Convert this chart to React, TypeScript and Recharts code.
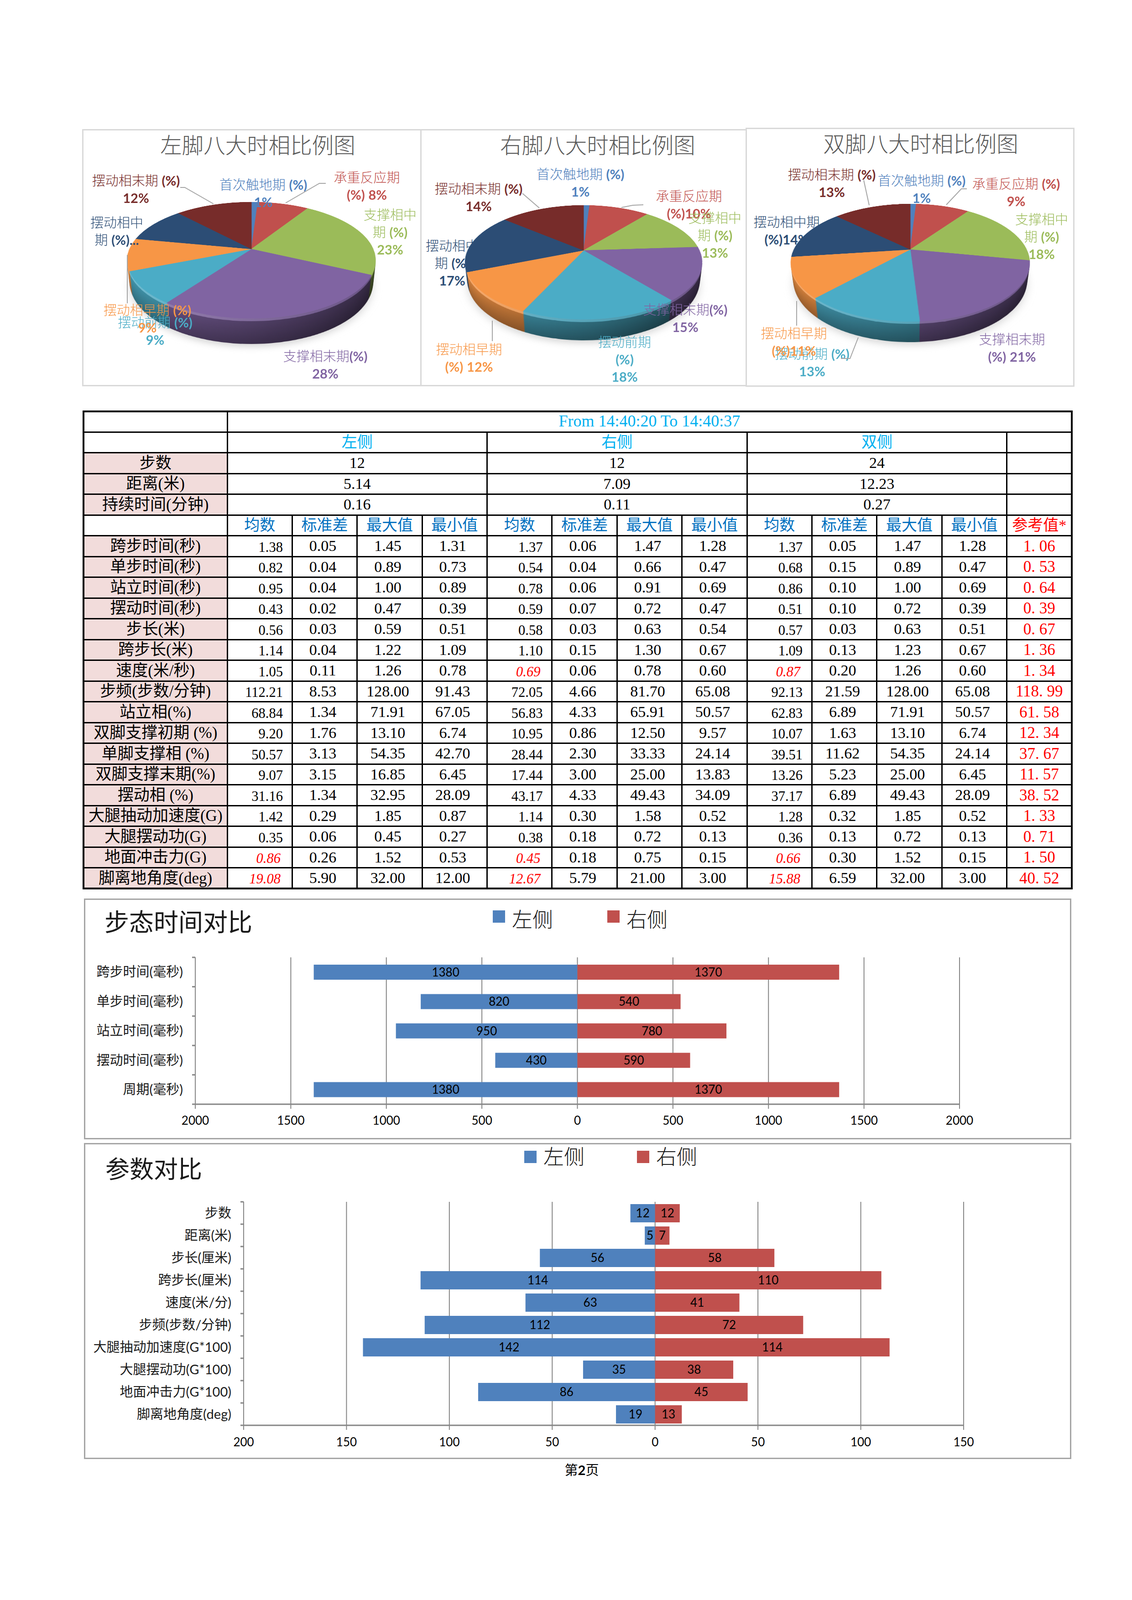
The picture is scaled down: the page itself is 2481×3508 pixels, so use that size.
import {
  BarChart, Bar, XAxis, YAxis, CartesianGrid, Legend, LabelList,
  PieChart, Pie, Cell,
} from 'recharts';

const SANS = '"Noto Sans CJK SC", sans-serif';
const LATIN = 'Lato, "Noto Sans CJK SC", sans-serif';
const SERIF = '"Liberation Serif", "Noto Sans CJK SC", serif';

// pie data
const PHASES = ['首次触地期', '承重反应期', '支撑相中期', '支撑相末期', '摆动前期', '摆动相早期', '摆动相中期', '摆动相末期'];
const PIE_COLORS = ['#4f81bd', '#c0504d', '#9bbb59', '#8064a2', '#4bacc6', '#f79646', '#2c4d75', '#772c2a'];
const LEFT_PIE = [1, 8, 23, 28, 9, 9, 10, 12];
const RIGHT_PIE = [1, 10, 13, 15, 18, 12, 17, 14];
const BOTH_PIE = [1, 9, 18, 21, 13, 11, 14, 13];

const LEFT_PIE_TEXT = ['首次触地期 (%)\n1%', '承重反应期\n(%) 8%', '支撑相中\n期 (%)\n23%', '支撑相末期(%)\n28%', '摆动前期 (%)\n9%', '摆动相早期 (%)\n9%', '摆动相中\n期 (%)...', '摆动相末期 (%)\n12%'];
const RIGHT_PIE_TEXT = ['首次触地期 (%)\n1%', '承重反应期\n(%)10%', '支撑相中\n期 (%)\n13%', '支撑相末期(%)\n15%', '摆动前期\n(%)\n18%', '摆动相早期\n(%) 12%', '摆动相中\n期 (%)\n17%', '摆动相末期 (%)\n14%'];
const BOTH_PIE_TEXT = ['首次触地期 (%)\n1%', '承重反应期 (%)\n9%', '支撑相中\n期 (%)\n18%', '支撑相末期\n(%) 21%', '摆动前期 (%)\n13%', '摆动相早期\n(%)11%', '摆动相中期\n(%)14%', '摆动相末期 (%)\n13%'];

// label anchors, same order as PHASES: [x, y of first line, drawn behind pie]
const LEFT_PIE_POS: [number, number, boolean][] = [[577, 404, false], [804, 388, false], [855, 470, false], [713, 780, false], [340, 706, false], [323, 679, false], [256, 487, false], [298, 395, false]];
const RIGHT_PIE_POS: [number, number, boolean][] = [[1272, 381, false], [1510, 429, false], [1567, 477, false], [1502, 678, false], [1369, 749, false], [1028, 765, false], [991, 538, true], [1049, 413, false]];
const BOTH_PIE_POS: [number, number, boolean][] = [[2020, 395, false], [2227, 402, false], [2283, 480, false], [2218, 743, false], [1780, 775, false], [1740, 730, false], [1724, 486, true], [1823, 382, false]];

const LEADERS = [
  '395,411 405,411 468,447', '714,402 700,402 626,445', '279,559 279,665',
  '1145,424 1182,456', '1410,449 1387,450 1362,455', '1079,703 1079,748',
  '1893,395 1905,450', '2119,414 2107,414 2074,449', '1746,660 1746,714', '1881,740 1863,786 1843,786',
];

// table data
const SUMMARY_LABELS = ['步数', '距离(米)', '持续时间(分钟)'];
const SUMMARY_LEFT = ['12', '5.14', '0.16'];
const SUMMARY_RIGHT = ['12', '7.09', '0.11'];
const SUMMARY_BOTH = ['24', '12.23', '0.27'];
const STAT_HEADERS = ['均数', '标准差', '最大值', '最小值'];
const METRICS = ['跨步时间(秒)', '单步时间(秒)', '站立时间(秒)', '摆动时间(秒)', '步长(米)', '跨步长(米)', '速度(米/秒)', '步频(步数/分钟)', '站立相(%)', '双脚支撑初期 (%)', '单脚支撑相 (%)', '双脚支撑末期(%)', '摆动相 (%)', '大腿抽动加速度(G)', '大腿摆动功(G)', '地面冲击力(G)', '脚离地角度(deg)'];

const LEFT_MEAN = [1.38, 0.82, 0.95, 0.43, 0.56, 1.14, 1.05, 112.21, 68.84, 9.20, 50.57, 9.07, 31.16, 1.42, 0.35, 0.86, 19.08];
const LEFT_SD = [0.05, 0.04, 0.04, 0.02, 0.03, 0.04, 0.11, 8.53, 1.34, 1.76, 3.13, 3.15, 1.34, 0.29, 0.06, 0.26, 5.90];
const LEFT_MAX = [1.45, 0.89, 1.00, 0.47, 0.59, 1.22, 1.26, 128.00, 71.91, 13.10, 54.35, 16.85, 32.95, 1.85, 0.45, 1.52, 32.00];
const LEFT_MIN = [1.31, 0.73, 0.89, 0.39, 0.51, 1.09, 0.78, 91.43, 67.05, 6.74, 42.70, 6.45, 28.09, 0.87, 0.27, 0.53, 12.00];
const RIGHT_MEAN = [1.37, 0.54, 0.78, 0.59, 0.58, 1.10, 0.69, 72.05, 56.83, 10.95, 28.44, 17.44, 43.17, 1.14, 0.38, 0.45, 12.67];
const RIGHT_SD = [0.06, 0.04, 0.06, 0.07, 0.03, 0.15, 0.06, 4.66, 4.33, 0.86, 2.30, 3.00, 4.33, 0.30, 0.18, 0.18, 5.79];
const RIGHT_MAX = [1.47, 0.66, 0.91, 0.72, 0.63, 1.30, 0.78, 81.70, 65.91, 12.50, 33.33, 25.00, 49.43, 1.58, 0.72, 0.75, 21.00];
const RIGHT_MIN = [1.28, 0.47, 0.69, 0.47, 0.54, 0.67, 0.60, 65.08, 50.57, 9.57, 24.14, 13.83, 34.09, 0.52, 0.13, 0.15, 3.00];
const BOTH_MEAN = [1.37, 0.68, 0.86, 0.51, 0.57, 1.09, 0.87, 92.13, 62.83, 10.07, 39.51, 13.26, 37.17, 1.28, 0.36, 0.66, 15.88];
const BOTH_SD = [0.05, 0.15, 0.10, 0.10, 0.03, 0.13, 0.20, 21.59, 6.89, 1.63, 11.62, 5.23, 6.89, 0.32, 0.13, 0.30, 6.59];
const BOTH_MAX = [1.47, 0.89, 1.00, 0.72, 0.63, 1.23, 1.26, 128.00, 71.91, 13.10, 54.35, 25.00, 49.43, 1.85, 0.72, 1.52, 32.00];
const BOTH_MIN = [1.28, 0.47, 0.69, 0.39, 0.51, 0.67, 0.60, 65.08, 50.57, 6.74, 24.14, 6.45, 28.09, 0.52, 0.13, 0.15, 3.00];
const REFERENCE = ['1. 06', '0. 53', '0. 64', '0. 39', '0. 67', '1. 36', '1. 34', '118. 99', '61. 58', '12. 34', '37. 67', '11. 57', '38. 52', '1. 33', '0. 71', '1. 50', '40. 52'];
const LEFT_LOW = [15, 16];
const RIGHT_LOW = [6, 15, 16];
const BOTH_LOW = [6, 15, 16];

// bar data
const TIME_NAMES = ['跨步时间(毫秒)', '单步时间(毫秒)', '站立时间(毫秒)', '摆动时间(毫秒)', '周期(毫秒)'];
const TIME_LEFT = [1380, 820, 950, 430, 1380];
const TIME_RIGHT = [1370, 540, 780, 590, 1370];
const TIME_TICKS = [-2000, -1500, -1000, -500, 0, 500, 1000, 1500, 2000];
const PARAM_NAMES = ['步数', '距离(米)', '步长(厘米)', '跨步长(厘米)', '速度(米/分)', '步频(步数/分钟)', '大腿抽动加速度(G*100)', '大腿摆动功(G*100)', '地面冲击力(G*100)', '脚离地角度(deg)'];
const PARAM_LEFT = [12, 5, 56, 114, 63, 112, 142, 35, 86, 19];
const PARAM_RIGHT = [12, 7, 58, 110, 41, 72, 114, 38, 45, 13];
const PARAM_TICKS = [-200, -150, -100, -50, 0, 50, 100, 150];

function mix(hex: string, target: number, amt: number) {
  const n = parseInt(hex.slice(1), 16);
  const ch = [(n >> 16) & 255, (n >> 8) & 255, n & 255].map((c) => Math.round(c + (target - c) * amt));
  return `rgb(${ch.join(',')})`;
}

interface PieProps {
  id: string;
  values: number[];
  cx: number;
  cy: number;
  radius: number;
  persp: number;
  tilt: number;
  depth: number;
}

function PieLayer({ id, values, cx, cy, radius, persp, tilt, h, fills, stops, blur }: PieProps & {
  h: number; fills?: string[]; stops?: [string, string][]; blur?: boolean;
}) {
  const size = radius * 2 + 12;
  const data = PHASES.map((name, i) => ({ name, value: values[i] }));
  return (
    <div style={{
      position: 'absolute', left: cx - size / 2, top: cy - size / 2, width: size, height: size,
      transform: `perspective(${persp}px) rotateX(${tilt}deg) translateZ(${-h}px)`,
      transformOrigin: '50% 50%',
      filter: blur ? 'blur(9px)' : undefined,
      opacity: blur ? 0.3 : 1,
    }}>
      <PieChart width={size} height={size} margin={{ top: 0, right: 0, bottom: 0, left: 0 }}>
        {stops && (
          <defs>
            {stops.map((s, i) => (
              <linearGradient key={i} id={`${id}-${h}-${i}`} gradientUnits="userSpaceOnUse" x1={6} x2={size - 6} y1={0} y2={0}>
                <stop offset="0" stopColor={s[0]} />
                <stop offset="1" stopColor={s[1]} />
              </linearGradient>
            ))}
          </defs>
        )}
        <Pie
          data={data}
          dataKey="value"
          cx={size / 2}
          cy={size / 2}
          innerRadius={0}
          outerRadius={radius}
          startAngle={90}
          endAngle={-270}
          stroke="none"
          isAnimationActive={false}
        >
          {data.map((d, i) => (
            <Cell
              key={d.name}
              fill={stops ? `url(#${id}-${h}-${i})` : fills![i]}
              stroke={stops ? 'none' : fills![i]}
              strokeWidth={stops ? 0 : 1}
            />
          ))}
        </Pie>
      </PieChart>
    </div>
  );
}

function Pie3D(props: PieProps) {
  const heights: number[] = [];
  for (let h = props.depth; h > 0; h -= 2) heights.push(h);
  return (
    <>
      <PieLayer {...props} h={props.depth + 7} fills={PIE_COLORS.map(() => '#7f7f7f')} blur />
      {heights.map((h) => {
        const t = h / props.depth;
        const stops: [string, string][] = PIE_COLORS.map((c) =>
          h <= 6
            ? [mix(c, 255, 0.22), mix(c, 0, 0.2)]
            : [mix(c, 0, 0.1 + 0.25 * t), mix(c, 0, 0.6 + 0.12 * t)]
        );
        return <PieLayer key={h} {...props} h={h} stops={stops} />;
      })}
      <PieLayer {...props} h={0} fills={PIE_COLORS} />
    </>
  );
}

function PieText({ texts, pos, behind }: { texts: string[]; pos: [number, number, boolean][]; behind: boolean }) {
  return (
    <>
      {texts.map((text, i) =>
        pos[i][2] !== behind ? null : text.split('\n').map((line, j) => (
          <div key={`${i}-${j}`} style={{
            position: 'absolute', left: pos[i][0], top: pos[i][1] + j * 38,
            transform: 'translate(-50%, -50%)', whiteSpace: 'nowrap',
            color: PIE_COLORS[i], fontFamily: LATIN, fontSize: 29, lineHeight: 1, fontWeight: 300,
          }}>
            {line.split(/(\(%\)\.*|\d+%)/).map((part, k) => (
              <span key={k} style={{ fontWeight: k % 2 ? 700 : 300 }}>{part}</span>
            ))}
          </div>
        ))
      )}
    </>
  );
}

function PiePanel({ left, top, width, height, title, titleX, titleY }: {
  left: number; top: number; width: number; height: number; title: string; titleX: number; titleY: number;
}) {
  return (
    <>
      <div style={{ position: 'absolute', left, top, width, height, boxSizing: 'border-box', border: '3px solid #d9d9d9' }} />
      <div style={{
        position: 'absolute', left: titleX, top: titleY, transform: 'translate(-50%, -50%)', whiteSpace: 'nowrap',
        fontFamily: SANS, fontSize: 47.5, lineHeight: 1, fontWeight: 300, color: '#595959',
      }}>{title}</div>
    </>
  );
}

const BORDER = '3px solid #000';
const cellBase = {
  border: BORDER, padding: 0, textAlign: 'center' as const, fontFamily: SERIF, fontSize: 34,
  lineHeight: 1, overflow: 'hidden', whiteSpace: 'nowrap' as const,
};

function StatCells({ mean, sd, max, min, low, i }: {
  mean: number[]; sd: number[]; max: number[]; min: number[]; low: number[]; i: number;
}) {
  const isLow = low.includes(i);
  return (
    <>
      <td style={{
        ...cellBase, textAlign: 'right', fontSize: 30.5, paddingRight: isLow ? 24 : 19, paddingTop: 5,
        color: isLow ? '#ff0000' : '#000', fontStyle: isLow ? 'italic' : 'normal',
      }}>{mean[i].toFixed(2)}</td>
      {[sd, max, min].map((col, k) => (
        <td key={k} style={{ ...cellBase, paddingRight: 8 }}>{col[i].toFixed(2)}</td>
      ))}
    </>
  );
}

function GaitTable() {
  const cols = [315, ...Array(13).fill(142.4)];
  const labelCell = { ...cellBase, background: '#f2dcdb', fontSize: 35 };
  const cyan = { ...cellBase, color: '#00b0f0', fontSize: 34 };
  const blue = { ...cellBase, color: '#0070c0', fontSize: 34 };
  return (
    <table style={{
      position: 'absolute', left: 181, top: 900, width: 2167, height: 1047,
      borderCollapse: 'collapse', tableLayout: 'fixed', border: '4px solid #000',
    }}>
      <colgroup>{cols.map((w, i) => <col key={i} style={{ width: w }} />)}</colgroup>
      <tbody>
        <tr style={{ height: 45 }}>
          <td style={cellBase} />
          <td colSpan={13} style={{ ...cyan, fontSize: 36, paddingBottom: 3 }}>From 14:40:20 To 14:40:37</td>
        </tr>
        <tr style={{ height: 45.5 }}>
          <td style={cellBase} />
          {['左侧', '右侧', '双侧'].map((s) => <td key={s} colSpan={4} style={cyan}>{s}</td>)}
          <td style={cellBase} />
        </tr>
        {SUMMARY_LABELS.map((label, i) => (
          <tr key={label} style={{ height: 45.5 }}>
            <td style={labelCell}>{label}</td>
            {[SUMMARY_LEFT, SUMMARY_RIGHT, SUMMARY_BOTH].map((col, k) => (
              <td key={k} colSpan={4} style={cellBase}>{col[i]}</td>
            ))}
            <td style={cellBase} />
          </tr>
        ))}
        <tr style={{ height: 45.5 }}>
          <td style={cellBase} />
          {[0, 1, 2].map((k) => STAT_HEADERS.map((s) => <td key={`${k}${s}`} style={blue}>{s}</td>))}
          <td style={{ ...cellBase, color: '#ff0000', fontSize: 34 }}>参考值*</td>
        </tr>
        {METRICS.map((label, i) => (
          <tr key={label} style={{ height: 45.5 }}>
            <td style={labelCell}>{label}</td>
            <StatCells mean={LEFT_MEAN} sd={LEFT_SD} max={LEFT_MAX} min={LEFT_MIN} low={LEFT_LOW} i={i} />
            <StatCells mean={RIGHT_MEAN} sd={RIGHT_SD} max={RIGHT_MAX} min={RIGHT_MIN} low={RIGHT_LOW} i={i} />
            <StatCells mean={BOTH_MEAN} sd={BOTH_SD} max={BOTH_MAX} min={BOTH_MIN} low={BOTH_LOW} i={i} />
            <td style={{ ...cellBase, color: '#ff0000', fontSize: 35 }}>{REFERENCE[i]}</td>
          </tr>
        ))}
      </tbody>
    </table>
  );
}

function CategoryTick({ y, payload, axisX, band, last }: any) {
  return (
    <g>
      <line x1={axisX - 7} x2={axisX} y1={y - band / 2} y2={y - band / 2} stroke="#868686" strokeWidth={3} />
      {last === payload.value && (
        <line x1={axisX - 7} x2={axisX} y1={y + band / 2} y2={y + band / 2} stroke="#868686" strokeWidth={3} />
      )}
      <text x={axisX - 27} y={y} dy="0.35em" textAnchor="end" fontSize={29} fontFamily={LATIN} fill="#1a1a1a">
        {payload.value}
      </text>
    </g>
  );
}

// legend keeps the chart area untouched, so it is placed by hand inside the panel
function makeLegend(step: number, squareY: number, textY: number) {
  return function PairLegend({ payload }: any) {
    return (
      <div style={{ position: 'relative', height: 60 }}>
        {(payload || []).map((item: any, i: number) => (
          <div key={item.value} style={{ position: 'absolute', left: i * step, top: 0 }}>
            <span style={{ position: 'absolute', left: 0, top: squareY, width: 27, height: 27, background: item.color }} />
            <span style={{
              position: 'absolute', left: 42, top: textY, whiteSpace: 'nowrap',
              fontSize: 45, lineHeight: '54px', fontFamily: SANS, fontWeight: 300, color: '#1a1a1a',
            }}>{item.value}</span>
          </div>
        ))}
      </div>
    );
  };
}

function Pyramid({ top, height, marginBottom, tickMargin, plotLeft, plotRight, barSize, names, left, right, ticks, title, titleX, titleY, titleSize, legendX, legendStep, squareY, textY }: {
  top: number; height: number; marginBottom: number; tickMargin: number; plotLeft: number; plotRight: number; barSize: number;
  names: string[]; left: number[]; right: number[]; ticks: number[];
  title: string; titleX: number; titleY: number; titleSize: number;
  legendX: number; legendStep: number; squareY: number; textY: number;
}) {
  const width = 2164;
  const marginTop = 129;
  const axisH = 60;
  const band = (height - marginTop - marginBottom - axisH) / names.length;
  const data = names.map((name, i) => ({ name, left: -left[i], right: right[i] }));
  return (
    <div style={{ position: 'absolute', left: 184, top, width, height }}>
      <div style={{ position: 'absolute', inset: 0, boxSizing: 'border-box', border: '3px solid #a6a6a6' }} />
      <div style={{
        position: 'absolute', left: titleX, top: titleY, transform: 'translateY(-50%)', whiteSpace: 'nowrap',
        fontFamily: SANS, fontSize: titleSize, lineHeight: 1, color: '#1a1a1a',
      }}>{title}</div>
      <BarChart
        layout="vertical"
        width={width}
        height={height}
        data={data}
        stackOffset="sign"
        margin={{ top: marginTop, right: width - plotRight, bottom: marginBottom, left: 0 }}
      >
        <CartesianGrid horizontal={false} stroke="#868686" strokeWidth={2} />
        <XAxis
          type="number"
          domain={[ticks[0], ticks[ticks.length - 1]]}
          ticks={ticks}
          interval={0}
          height={axisH}
          tickFormatter={(v: number) => String(Math.abs(v))}
          tick={{ fill: '#000', fontSize: 26, fontFamily: LATIN }}
          tickSize={10}
          tickMargin={tickMargin}
          tickLine={{ stroke: '#868686', strokeWidth: 2 }}
          axisLine={{ stroke: '#868686', strokeWidth: 3 }}
        />
        <YAxis
          type="category"
          dataKey="name"
          width={plotLeft}
          interval={0}
          tickLine={false}
          axisLine={{ stroke: '#868686', strokeWidth: 2 }}
          tick={(p: any) => <CategoryTick {...p} axisX={plotLeft} band={band} last={names[names.length - 1]} />}
        />
        <Legend
          layout="horizontal"
          verticalAlign="middle"
          align="center"
          itemSorter="dataKey"
          wrapperStyle={{ position: 'absolute', left: legendX, top: 0, width: 600, height: 60 }}
          content={makeLegend(legendStep, squareY, textY)}
        />
        <Bar dataKey="left" name="左侧" stackId="a" fill="#4f81bd" barSize={barSize} isAnimationActive={false}>
          <LabelList dataKey="left" position="center" formatter={(v: number) => Math.abs(v)} fill="#000" fontSize={26} fontFamily={LATIN} />
        </Bar>
        <Bar dataKey="right" name="右侧" stackId="a" fill="#c0504d" barSize={barSize} isAnimationActive={false}>
          <LabelList dataKey="right" position="center" fill="#000" fontSize={26} fontFamily={LATIN} />
        </Bar>
      </BarChart>
    </div>
  );
}

export default function App() {
  return (
    <div style={{ position: 'absolute', left: 0, top: 0, width: 2481, height: 3508, background: '#fff', overflow: 'hidden' }}>
      <PiePanel left={180} top={283} width={744} height={564} title="左脚八大时相比例图" titleX={565} titleY={316} />
      <PiePanel left={921} top={283} width={716} height={564} title="右脚八大时相比例图" titleX={1310} titleY={316} />
      <PiePanel left={1634} top={280} width={721} height={568} title="双脚八大时相比例图" titleX={2018} titleY={313} />

      <PieText texts={RIGHT_PIE_TEXT} pos={RIGHT_PIE_POS} behind />
      <PieText texts={BOTH_PIE_TEXT} pos={BOTH_PIE_POS} behind />

      <Pie3D id="pl" values={LEFT_PIE} cx={551} cy={546} radius={267} persp={1234} tilt={62.6} depth={56} />
      <Pie3D id="pr" values={RIGHT_PIE} cx={1279} cy={549} radius={254} persp={1077} tilt={61.9} depth={46} />
      <Pie3D id="pb" values={BOTH_PIE} cx={1995} cy={547} radius={255} persp={995} tilt={61.3} depth={45} />

      <PieText texts={LEFT_PIE_TEXT} pos={LEFT_PIE_POS} behind={false} />
      <PieText texts={RIGHT_PIE_TEXT} pos={RIGHT_PIE_POS} behind={false} />
      <PieText texts={BOTH_PIE_TEXT} pos={BOTH_PIE_POS} behind={false} />

      <svg width={2481} height={900} style={{ position: 'absolute', left: 0, top: 0 }}>
        {LEADERS.map((pts) => <polyline key={pts} points={pts} fill="none" stroke="#a6a6a6" strokeWidth={2} />)}
      </svg>

      <GaitTable />

      <Pyramid
        top={1970} height={528} marginBottom={17} tickMargin={17} plotLeft={244} plotRight={1919} barSize={33}
        names={TIME_NAMES} left={TIME_LEFT} right={TIME_RIGHT} ticks={TIME_TICKS}
        title="步态时间对比" titleX={45} titleY={49} titleSize={54}
        legendX={896} legendStep={251} squareY={26} textY={17}
      />
      <Pyramid
        top={2506} height={693} marginBottom={14} tickMargin={18} plotLeft={350} plotRight={1928} barSize={40}
        names={PARAM_NAMES} left={PARAM_LEFT} right={PARAM_RIGHT} ticks={PARAM_TICKS}
        title="参数对比" titleX={47} titleY={54} titleSize={53}
        legendX={965} legendStep={247} squareY={17} textY={1}
      />

      <div style={{
        position: 'absolute', left: 1275, top: 3222, transform: 'translate(-50%, -50%)', whiteSpace: 'nowrap',
        fontFamily: LATIN, fontSize: 29, lineHeight: 1, color: '#000',
      }}>第<b>2</b>页</div>
    </div>
  );
}
